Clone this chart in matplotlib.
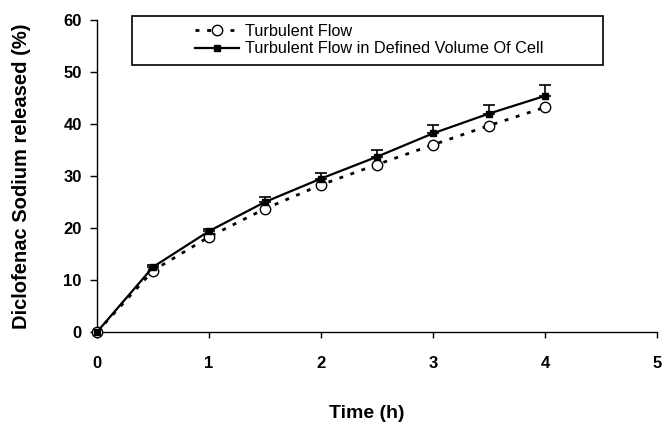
import matplotlib
matplotlib.use('Agg')
import matplotlib.pyplot as plt
from matplotlib.patches import Rectangle
import numpy as np

plt.rcParams['font.family'] = ['Liberation Sans', 'DejaVu Sans']

TIME = [0, 0.5, 1, 1.5, 2, 2.5, 3, 3.5, 4]
TURBULENT = [0, 11.8, 18.3, 23.7, 28.3, 32.2, 36.0, 39.7, 43.2]
DEFINED_VOLUME = [0, 12.5, 19.4, 25.0, 29.5, 33.7, 38.2, 42.0, 45.4]
DEFINED_VOLUME_ERR = [0, 0.4, 0.5, 0.9, 1.1, 1.3, 1.6, 1.7, 2.1]

LABELS = ['Turbulent Flow', 'Turbulent Flow in Defined Volume Of Cell']
X_TICKS = [0, 1, 2, 3, 4, 5]
Y_TICKS = [0, 10, 20, 30, 40, 50, 60]

W, H = 669, 426


def main():
    fig = plt.figure(figsize=(W / 100, H / 100), dpi=100)
    ax = fig.add_axes([97 / W, 1 - 332 / H, (657 - 97) / W, (332 - 20) / H])

    err = np.array(DEFINED_VOLUME_ERR)
    ax.errorbar(TIME, DEFINED_VOLUME, yerr=[np.zeros_like(err), err], fmt='none',
                ecolor='black', elinewidth=1.2, capsize=4, capthick=1.2, zorder=2)
    l1, = ax.plot(TIME, TURBULENT, linestyle=(0, (1.4, 2.8)), color='black', lw=2.0,
                  marker='o', ms=7.5, mfc='white', mec='black', mew=1.0, zorder=3,
                  clip_on=False)
    l2, = ax.plot(TIME, DEFINED_VOLUME, '-', color='black', lw=1.6, marker='s', ms=5,
                  mfc='black', mec='black', zorder=4, clip_on=False)

    ax.set_xlim(0, 5)
    ax.set_ylim(0, 60)
    ax.set_xticks(X_TICKS)
    ax.set_yticks(Y_TICKS)
    for s in ['top', 'right']:
        ax.spines[s].set_visible(False)
    for s in ['left', 'bottom']:
        ax.spines[s].set_linewidth(1.0)
    ax.tick_params(axis='x', direction='out', length=4, width=1, pad=13, labelsize=12)
    ax.tick_params(axis='y', direction='out', length=5, width=1, pad=6, labelsize=12)
    for t in ax.get_xticklabels() + ax.get_yticklabels():
        t.set_fontweight('bold')

    ax.set_xlabel('Time (h)', fontsize=14, fontweight='bold')
    ax.xaxis.set_label_coords((367 - 97) / 560, (332 - 405) / 312)
    ax.set_ylabel('Diclofenac Sodium released (%)', fontsize=14.5, fontweight='bold')
    ax.yaxis.set_label_coords((31 - 97) / 560, 0.5)

    # legend frame like the original (wide box, entries placed inside)
    fig.patches.append(Rectangle((132 / W, 1 - 65 / H), (603 - 132) / W, (65 - 16) / H,
                                 transform=fig.transFigure, fill=False, edgecolor='black',
                                 lw=1.2, zorder=5))
    ax.legend([l1, l2], LABELS, loc='upper left', bbox_to_anchor=(195 / W, 1 - 24 / H),
              bbox_transform=fig.transFigure, frameon=False, fontsize=11.7,
              handlelength=2.7, handletextpad=0.4, borderpad=0, borderaxespad=0,
              labelspacing=0.15)

    fig.savefig('out.png', dpi=100)


if __name__ == '__main__':
    main()
